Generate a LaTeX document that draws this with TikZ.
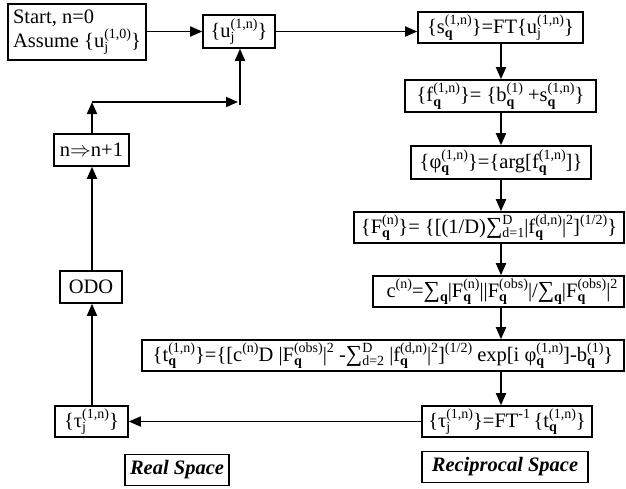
\documentclass[tikz,border=0pt]{standalone}
\usepackage{fontspec}
\setmainfont{Liberation Serif}
\usetikzlibrary{arrows.meta,calc}
\newcommand\sbsp[2]{\begingroup\fontsize{14}{14}\selectfont
 \setbox0\hbox{#1}\setbox2\hbox{#2}%
 \dimen0=\wd0 \ifdim\wd2>\dimen0 \dimen0=\wd2 \fi
 \rlap{\lower4.5pt\box0}\rlap{\raise9pt\box2}\hskip\dimen0\endgroup}
\newcommand\Q{\textbf{q}}
\newcommand\Sm{{\fontsize{23}{23}\selectfont ∑}}
\tikzset{
  box/.style={draw, line width=1.6pt, inner xsep=2pt, inner ysep=0pt, minimum height=31pt, font=\fontsize{20.5}{24}\selectfont},
  arr/.style={-{Triangle[length=12pt,width=10pt]}, line width=1.8pt},
  lbl/.style={box, font=\fontsize{20.5}{24}\selectfont\bfseries\itshape}
}
\begin{document}
\begin{tikzpicture}[x=1pt,y=-1pt]
\useasboundingbox (0,0) rectangle (626,488);
\node[box, minimum width=138pt, minimum height=56pt, align=left, inner xsep=5pt] (start) at (77,32) {Start, n=0\\Assume \{u\sbsp{j}{(1,0)}\}};
\node[box, minimum width=72pt, minimum height=33pt] (uj) at (239,31.5) {\{u\sbsp{j}{(1,n)}\}};
\node[box, minimum width=165pt] (sq) at (500.5,27.5) {\{s\sbsp{\Q}{(1,n)}\}=FT\{u\sbsp{j}{(1,n)}\}};
\node[box, minimum width=191pt, minimum height=32pt] (fq) at (500.5,96) {\{f\sbsp{\Q}{(1,n)}\}= \{b\sbsp{\Q}{(1)} +s\sbsp{\Q}{(1,n)}\}};
\node[box, minimum width=180pt, minimum height=33pt] (phi) at (501,162.5) {\{φ\sbsp{\Q}{(1,n)}\}=\{arg[f\sbsp{\Q}{(1,n)}]\}};
\node[box, minimum width=270pt] (Fq) at (489,227.5) {\{F\sbsp{\Q}{(n)}\}= \{[(1/D)\Sm\sbsp{d=1}{D}|f\sbsp{\Q}{(d,n)}|\sbsp{}{2}]\sbsp{}{(1/2)}\}};
\node[box, minimum width=251pt] (c) at (498.5,291.5) {c\sbsp{}{(n)}=\Sm\sbsp{\Q}{}|F\sbsp{\Q}{(n)}||F\sbsp{\Q}{(obs)}|/\Sm\sbsp{\Q}{}|F\sbsp{\Q}{(obs)}|\sbsp{}{2}};
\node[box, minimum width=482pt] (t) at (383,355.5) {\{t\sbsp{\Q}{(1,n)}\}=\{[c\sbsp{}{(n)}D |F\sbsp{\Q}{(obs)}|\sbsp{}{2} -\Sm\sbsp{d=2}{D} |f\sbsp{\Q}{(d,n)}|\sbsp{}{2}]\sbsp{}{(1/2)} exp[i φ\sbsp{\Q}{(1,n)}]-b\sbsp{\Q}{(1)}\}};
\node[box, minimum width=170pt] (tauR) at (507,421.5) {\{τ\sbsp{j}{(1,n)}\}=FT\sbsp{}{-1}\,\{t\sbsp{\Q}{(1,n)}\}};
\node[box, minimum width=73pt] (tauL) at (91.5,421.5) {\{τ\sbsp{j}{(1,n)}\}};
\node[lbl, minimum width=104pt, minimum height=31pt] (real) at (177,470) {Real Space};
\node[lbl, minimum width=166pt, minimum height=31pt] (recip) at (505,467) {Reciprocal Space};
\node[box, minimum width=75pt, minimum height=32pt] (n) at (91.5,150) {n$\Rightarrow$n+1};
\node[box, minimum width=62pt, minimum height=32pt] (odo) at (91,287) {ODO};
\coordinate (k1) at (92,102);
\coordinate (k2) at (238,102);
\coordinate (k3) at (240,105);
% connectors
\draw[arr] (start.east |- uj.west) -- (uj.west);
\draw[arr] (uj.east) -- (uj.east -| sq.west);
\draw[arr] (sq.south -| phi.south) -- (phi.south |- fq.north);
\draw[arr] (fq.south -| phi.south) -- (phi.north);
\draw[arr] (phi.south) -- (phi.south |- Fq.north);
\draw[arr] (phi.south |- Fq.south) -- (phi.south |- c.north);
\draw[arr] (phi.south |- c.south) -- (phi.south |- t.north);
\draw[arr] (phi.south |- t.south) -- (phi.south |- tauR.north);
\draw[arr] (tauR.west) -- (tauL.east);
\draw[arr] (tauL.north -| k1) -- (odo.south -| k1);
\draw[arr] (odo.north -| k1) -- (n.south -| k1);
\draw[arr] (n.north -| k1) -- (k1);
\draw[arr] (k1) -- (k2);
\draw[arr] (k3) -- (uj.south -| k3);
\end{tikzpicture}
\end{document}
